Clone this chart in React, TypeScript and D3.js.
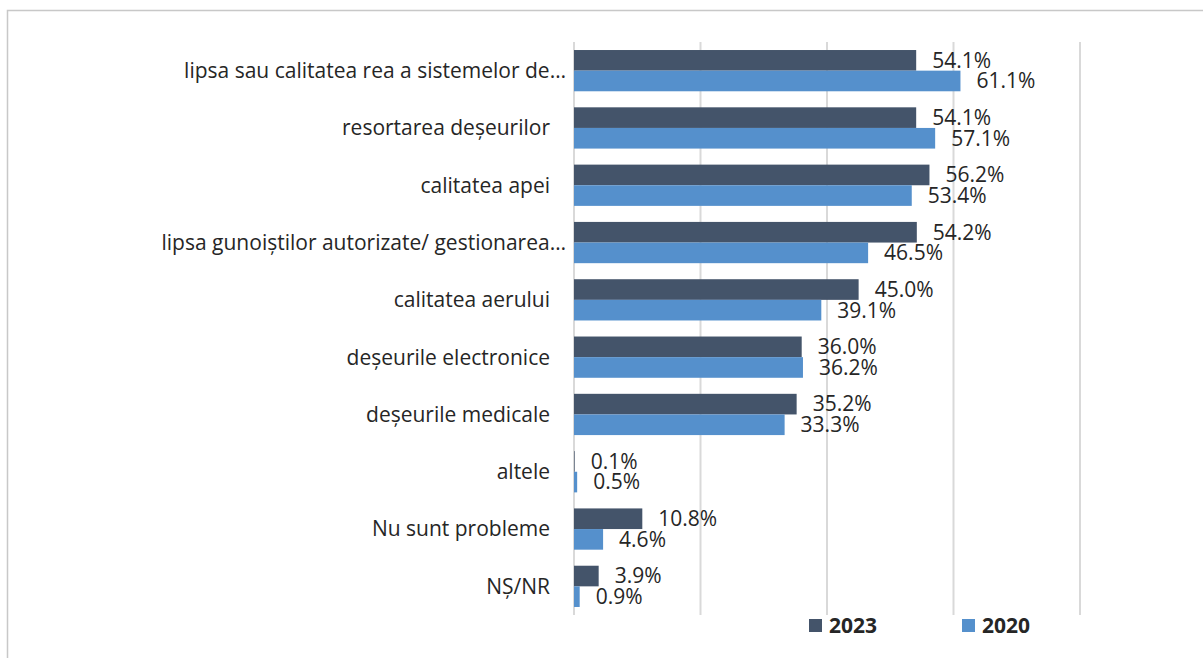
import React from "react";
import * as d3 from "d3";

const categories = [
  "lipsa sau calitatea rea a sistemelor de…",
  "resortarea deșeurilor",
  "calitatea apei",
  "lipsa gunoiștilor autorizate/ gestionarea…",
  "calitatea aerului",
  "deșeurile electronice",
  "deșeurile medicale",
  "altele",
  "Nu sunt probleme",
  "NȘ/NR",
];
const series = ["2023", "2020"];
const values2023 = [54.1, 54.1, 56.2, 54.2, 45.0, 36.0, 35.2, 0.1, 10.8, 3.9];
const values2020 = [61.1, 57.1, 53.4, 46.5, 39.1, 36.2, 33.3, 0.5, 4.6, 0.9];
const xTicks = [0, 20, 40, 60, 80];
const colors = ["#44546A", "#5590CC"];

const W = 1203;
const H = 658;
const FONT = "'Open Sans', 'DejaVu Sans', sans-serif";

export default function App() {
  const x = d3.scaleLinear().domain([0, 80]).range([574, 1080]);
  const y = d3
    .scaleBand<string>()
    .domain(categories)
    .range([42, 615])
    .paddingInner(0.28)
    .paddingOuter(0.14);
  const sub = d3.scaleBand<string>().domain(series).range([0, y.bandwidth()]);
  const data = [values2023, values2020];

  return (
    <svg
      width={W}
      height={H}
      style={{ position: "absolute", left: 0, top: 0, background: "#fff" }}
      fontFamily={FONT}
    >
      <rect x={7.5} y={10.5} width={W + 10} height={H + 10} fill="#fff" stroke="#c8c8c8" strokeWidth={1.5} />
      {xTicks.map((t) => (
        <line key={t} x1={x(t)} x2={x(t)} y1={42} y2={615} stroke="#d9d9d9" strokeWidth={2} />
      ))}
      {categories.map((c, i) => {
        const y0 = y(c)!;
        const truncated = c.endsWith("…");
        return (
          <g key={c}>
            <text
              x={truncated ? x(0) - 8 : x(0) - 24}
              y={y0 + y.bandwidth() / 2}
              dy="0.35em"
              textAnchor="end"
              fontSize={21}
              fill="#262626"
            >
              {c}
            </text>
            {series.map((s, k) => {
              const v = data[k][i];
              const by = y0 + sub(s)!;
              return (
                <g key={s}>
                  <rect x={x(0)} y={by} width={x(v) - x(0)} height={sub.bandwidth()} fill={colors[k]} />
                  <text
                    x={x(v) + 16}
                    y={by + sub.bandwidth() / 2}
                    dy="0.35em"
                    fontSize={21}
                    fill="#262626"
                  >
                    {v.toFixed(1) + "%"}
                  </text>
                </g>
              );
            })}
          </g>
        );
      })}
      {series.map((s, k) => {
        const lx = [809, 962][k];
        return (
          <g key={s}>
            <rect x={lx} y={619} width={13} height={13} fill={colors[k]} />
            <text x={lx + 20} y={625.5} dy="0.35em" fontSize={21} fontWeight="bold" fill="#262626">
              {s}
            </text>
          </g>
        );
      })}
    </svg>
  );
}
